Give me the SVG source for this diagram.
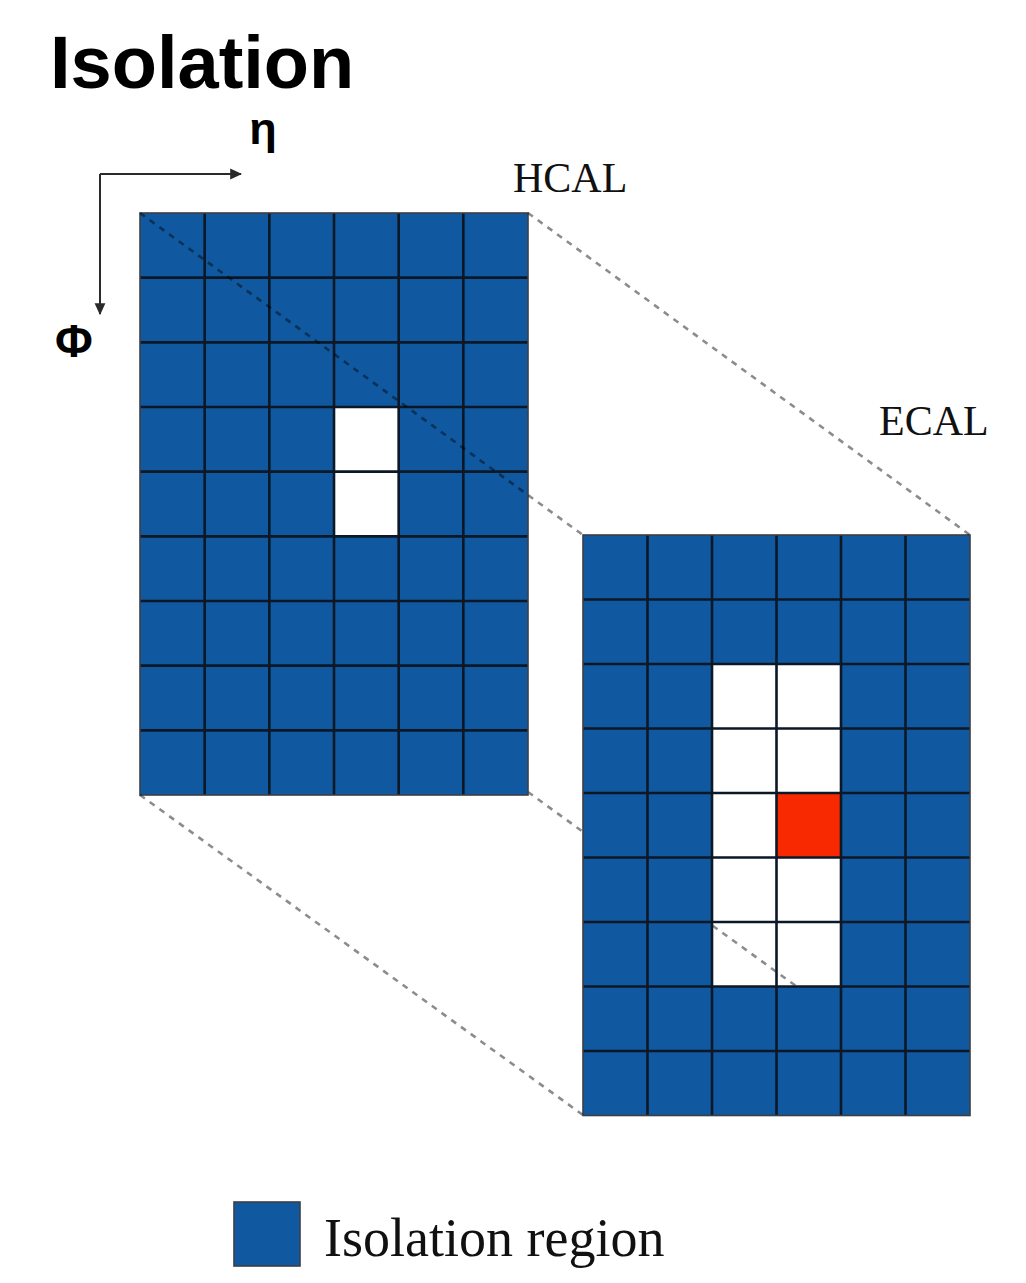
<svg xmlns="http://www.w3.org/2000/svg" width="1026" height="1283" viewBox="0 0 1026 1283">
<style>
.blue{fill:#1059a0}
.grid{fill:none;stroke:#0c1826;stroke-width:2.6}
.outline{fill:none;stroke:#3a3f46;stroke-width:1.6}
.dash{fill:none;stroke:#000;stroke-opacity:0.45;stroke-width:2.6;stroke-dasharray:6 6}
.axis{fill:none;stroke:#2a2a2a;stroke-width:2}
.serif{font-family:"Liberation Serif","Times New Roman",serif;fill:#111}
.sans{font-family:"Liberation Sans",Arial,sans-serif;font-weight:bold;fill:#000}
</style>
<defs>
<marker id="arr" viewBox="0 0 10 10" refX="9" refY="5" markerWidth="6" markerHeight="6" orient="auto" markerUnits="strokeWidth">
<path d="M0,0.5 L10,5 L0,9.5 z" fill="#2a2a2a"/>
</marker>
</defs>
<rect width="1026" height="1283" fill="#fff"/>
<g id="title"><text class="sans" x="50" y="88" font-size="74">Isolation</text></g>
<g id="axes">
<path class="axis" d="M100,174 H241" marker-end="url(#arr)"/>
<path class="axis" d="M100,174 V314" marker-end="url(#arr)"/>
<text class="sans" x="263" y="144" font-size="45" text-anchor="middle">η</text>
<text class="sans" x="74" y="357" font-size="46" text-anchor="middle">Φ</text>
</g>
<g id="connectors-back">
<line class="dash" x1="528" y1="792" x2="970" y2="1112"/>
</g>
<g id="hcal">
<path class="blue" fill-rule="evenodd" d="M140,213 H528 V795 H140 Z M334,407 V536.33 H398.67 V407 Z"/>
<path class="grid" d="M204.67,213V795M269.33,213V795M334,213V795M398.67,213V795M463.33,213V795M140,277.67H528M140,342.33H528M140,407H528M140,471.67H528M140,536.33H528M140,601H528M140,665.67H528M140,730.33H528"/>
<rect class="outline" x="140" y="213" width="388" height="582"/>
<text class="serif" x="513" y="192" font-size="42">HCAL</text>
</g>
<g id="ecal">
<path class="blue" fill-rule="evenodd" d="M583,535 H970 V1115.5 H583 Z M712,664 V986.5 H841 V664 Z"/>
<rect x="776.5" y="793" width="64.5" height="64.5" fill="#f82800"/>
<path class="grid" d="M647.5,535V1115.5M712,535V1115.5M776.5,535V1115.5M841,535V1115.5M905.5,535V1115.5M583,599.5H970M583,664H970M583,728.5H970M583,793H970M583,857.5H970M583,922H970M583,986.5H970M583,1051H970"/>
<rect class="outline" x="583" y="535" width="387" height="580.5"/>
<text class="serif" x="879" y="435" font-size="42">ECAL</text>
</g>
<g id="connectors">
<line class="dash" x1="140" y1="213" x2="583" y2="535"/>
<line class="dash" x1="528" y1="213" x2="970" y2="535"/>
<line class="dash" x1="140" y1="795" x2="583" y2="1115"/>
</g>
<g id="legend">
<rect x="234" y="1202" width="66" height="64" class="blue" stroke="#3a3f46" stroke-width="1.6"/>
<text class="serif" x="324" y="1256" font-size="54">Isolation region</text>
</g>
</svg>
